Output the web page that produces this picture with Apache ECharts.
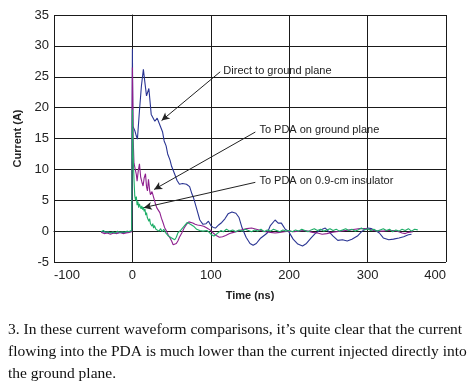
<!DOCTYPE html>
<html><head><meta charset="utf-8">
<script src="https://cdn.jsdelivr.net/npm/echarts@6/dist/echarts.min.js"></script>
<style>html,body{margin:0;padding:0;background:#fff}#c{width:470px;height:385px}</style>
</head><body><div id="c"></div>
<script>
const xTicks = [-100, 0, 100, 200, 300, 400];
const yTicks = [-5, 0, 5, 10, 15, 20, 25, 30, 35];
const seriesNames = ['Direct to ground plane', 'To PDA on ground plane', 'To PDA on 0.9-cm insulator'];

const directData = [[-40,-0.1],[-30,-0.2],[-20,-0.3],[-10,-0.2],[-1,0],[0,29.5],[0.6,17],[3,16.3],[5,15.4],[6.4,14.9],[9,19.5],[11.5,23.5],[14,26.2],[16,24],[18,21.9],[21,23.1],[24,18.9],[28.6,17.8],[31.6,18.3],[34,17.5],[38.4,16.1],[40.5,14.6],[43,13.8],[45,12.5],[48,11.5],[50,10.5],[54,9.2],[57,8.2],[60,7.6],[64,7.7],[69,7.6],[73,7.2],[76,6.0],[78,5.4],[82,3.6],[86,1.8],[90,1.1],[94,1.2],[97,1.6],[100,0.9],[103,0.6],[106,0.5],[110,1.0],[114,1.4],[118,2.0],[122,2.8],[127,3.1],[132,2.9],[136,2.2],[140,0.5],[145,-1.0],[150,-2.0],[154,-2.3],[158,-2.0],[163,-1.2],[168,-0.7],[172,-0.3],[176,0.9],[182,1.8],[186,1.3],[190,1.3],[195,0.3],[199,0],[205,-1.3],[211,-2.1],[217,-2.4],[222,-2.0],[228,-1.1],[234,-0.3],[240,0.2],[246,0.5],[250,0],[256,-0.8],[262,-1.5],[268,-1.4],[274,-1.6],[280,-1.3],[287,-0.8],[293,0],[300,0.5],[305,0.4],[310,0.1],[315,-0.3],[320,-1.1],[327,-1.4],[333,-1.3],[340,-1.1],[346,-0.9],[352,-0.6],[356,-0.5]];

const pdaGroundData = [[-40,-0.2],[-36,-0.4],[-32,-0.3],[-28,-0.5],[-24,-0.3],[-20,-0.4],[-16,-0.2],[-12,-0.4],[-8,-0.3],[-4,-0.2],[-1,-0.1],[0,26.5],[1,15],[2,11],[3.5,10.8],[5,9.2],[6,8.1],[7.5,9.8],[9,10.9],[10.5,8.8],[12,8.0],[13.6,7.3],[15,8.6],[16.7,9.3],[18,7.2],[19.2,6.5],[20.5,8.4],[22,6.6],[23,5.9],[25,6.4],[27.5,6.7],[29,4.6],[31,3.8],[33,3.6],[35,3.0],[37,2.1],[39,1.4],[41,0.6],[43.5,0],[46,-0.7],[48,-1.1],[50,-1.6],[52,-2.2],[54,-2.3],[56,-2.0],[58,-1.6],[60,-1.0],[63,-0.3],[66,0.5],[69,1.1],[72,1.5],[74,1.6],[77,1.3],[80,1.1],[83,1.0],[87,0.9],[91,0.8],[95,0.5],[99,0.2],[103,-0.3],[107,-0.7],[111,-1.0],[115,-0.9],[119,-0.7],[124,-0.4],[129,-0.2],[134,0],[140,0.2],[146,0.4],[152,0.5],[158,0.3],[164,0.1],[170,-0.1],[176,-0.2],[182,-0.3],[188,-0.2],[194,-0.1],[200,0],[206,-0.1],[212,0],[218,0.1],[224,0],[230,-0.2],[236,-0.3],[242,-0.5],[248,-0.4],[254,-0.2],[260,-0.1],[266,0],[272,0.1],[278,0.2],[284,0.3],[290,0.4],[296,0.4],[302,0.3],[308,0.1],[314,0],[320,0],[326,0.1],[332,0.1],[338,0],[344,-0.3],[348,-0.4],[352,-0.2],[358,-0.1]];

const insulatorData = [[-40,-0.1],[-37,0.1],[-34,-0.2],[-31,-0.1],[-28,-0.3],[-25,-0.1],[-22,-0.3],[-19,0],[-16,-0.2],[-13,-0.1],[-10,-0.2],[-7,0],[-4,-0.1],[-1,0.1],[0,19.7],[1,12],[2,8.5],[3,5.7],[4,5.0],[5,5.6],[6,4.2],[7,4.8],[8,3.8],[9,4.4],[10,4.0],[11,3.6],[12,4.1],[13,3.5],[14,3.9],[15,3.2],[16,3.6],[17,2.6],[18,3.0],[19,2.2],[20,2.4],[21,1.6],[22,2.0],[23,1.2],[24,1.5],[25,0.8],[26,1.2],[27,0.5],[28,0.9],[30,0.3],[32,0.6],[34,0.0],[36,0.4],[38,-0.1],[40,0.3],[42,-0.2],[44,0.1],[46,-0.8],[48,-0.6],[50,-1.1],[52,-0.9],[54,-1.4],[56,-1.0],[58,-0.3],[60,0],[62,0.2],[64,0.4],[66,0.8],[68,1.0],[70,1.4],[72,1.2],[74,1.1],[76,1.0],[78,0.8],[80,0.6],[82,0.3],[84,0.4],[86,0.1],[88,0.3],[90,0.0],[92,0.2],[95,0.1],[98,-0.2],[101,-0.6],[104,-0.8],[107,-0.5],[110,-0.2],[113,0.1],[116,-0.1],[120,0.3],[124,0],[128,0.2],[132,-0.1],[136,0.2],[140,0],[144,0.3],[148,0.1],[152,-0.1],[156,0.2],[160,0],[164,0.3],[168,-0.1],[172,0.2],[176,0],[180,0.3],[184,0.1],[188,-0.1],[192,0.2],[196,0],[200,0.1],[204,-0.1],[208,0.2],[212,0],[216,0.3],[220,0.1],[224,-0.1],[228,0.2],[232,0.4],[236,0.1],[240,0.3],[244,0],[248,0.2],[252,0.4],[256,0.1],[260,0.3],[264,0],[268,0.2],[272,0.4],[276,0.1],[280,0.3],[284,0],[288,0.2],[292,0.5],[296,0.2],[300,0.4],[304,0.1],[308,0.3],[312,0],[316,0.2],[320,0.4],[324,0.1],[328,0.3],[332,-0.1],[336,0.2],[340,0],[344,0.3],[348,0.1],[352,0.4],[356,0],[360,0.3],[364,0.2]];

// annotation anchor points (data coords): text start, arrow start, arrow tip
const annotText = [[116, 26.0], [162, 16.45], [162, 8.1]];
const annotFrom = [[112, 25.8], [156.8, 16.05], [156.8, 7.9]];
const annotTo = [[37.2, 17.9], [27.7, 6.75], [14.5, 3.8]];

const captionLines = [
  "3. In these current waveform comparisons, it\u2019s quite clear that the current",
  "flowing into the PDA is much lower than the current injected directly into",
  "the ground plane."
];

const chart = echarts.init(document.getElementById('c'), null, {renderer: 'canvas'});
const gridColor = '#1a1a1a';
const labelFont = {color: '#222', fontFamily: 'Liberation Sans', fontSize: 13};
chart.setOption({
  animation: false,
  backgroundColor: '#fff',
  grid: {left: 54, right: 24, top: 15, bottom: 123, containLabel: false},
  xAxis: {
    type: 'value', min: xTicks[0], max: xTicks[xTicks.length - 1], interval: 100,
    name: 'Time (ns)', nameLocation: 'middle', nameGap: 28,
    nameTextStyle: {color: '#222', fontFamily: 'Liberation Sans', fontSize: 11, fontWeight: 'bold'},
    axisLine: {show: true, lineStyle: {color: gridColor, width: 1}},
    axisTick: {show: false},
    axisLabel: Object.assign({margin: 7, alignMinLabel: 'left', alignMaxLabel: 'right'}, labelFont),
    splitLine: {show: true, lineStyle: {color: gridColor, width: 1}}
  },
  yAxis: {
    type: 'value', min: yTicks[0], max: yTicks[yTicks.length - 1], interval: 5,
    name: 'Current (A)', nameLocation: 'middle', nameGap: 28, nameRotate: 90,
    nameTextStyle: {color: '#222', fontFamily: 'Liberation Sans', fontSize: 11, fontWeight: 'bold'},
    axisLine: {show: true, lineStyle: {color: gridColor, width: 1}},
    axisTick: {show: false},
    axisLabel: Object.assign({margin: 5}, labelFont),
    splitLine: {show: true, lineStyle: {color: gridColor, width: 1}}
  },
  series: [
    {name: seriesNames[0], type: 'line', data: directData, showSymbol: false, symbol: 'none',
     lineStyle: {color: '#2a3593', width: 1.1}, itemStyle: {color: '#2a3593'}},
    {name: seriesNames[1], type: 'line', data: pdaGroundData, showSymbol: false, symbol: 'none',
     lineStyle: {color: '#8e1f8e', width: 1.1}, itemStyle: {color: '#8e1f8e'}},
    {name: seriesNames[2], type: 'line', data: insulatorData, showSymbol: false, symbol: 'none',
     lineStyle: {color: '#1fae68', width: 1.1}, itemStyle: {color: '#1fae68'}},
    {name: 'annotations', type: 'line', data: [], silent: true,
     markLine: {
       silent: true, symbol: ['none', 'arrow'], symbolSize: [6, 8],
       lineStyle: {color: '#222', width: 1, type: 'solid'},
       label: {show: false},
       data: annotFrom.map((p, i) => [{coord: p}, {coord: annotTo[i]}])
     },
     markPoint: {
       silent: true, symbol: 'circle', symbolSize: 0,
       label: {show: true, position: 'right', distance: 0, color: '#222', fontFamily: 'Liberation Sans', fontSize: 11,
               formatter: p => p.name},
       data: annotText.map((p, i) => ({name: seriesNames[i], coord: p}))
     }
    }
  ],
  graphic: [{
    type: 'text', left: 8, top: 319,
    style: {text: captionLines.join('\n'), font: '15.5px "Liberation Serif"', fill: '#111', lineHeight: 22}
  }]
});
</script></body></html>
